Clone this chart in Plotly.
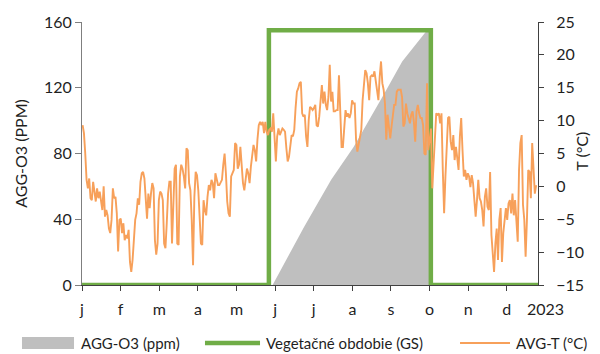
import numpy as np
import plotly.graph_objects as go

# ---------------- data ----------------
month_labels = ["j", "f", "m", "a", "m", "j", "j", "a", "s", "o", "n", "d"]
month_tick_days = [0, 31, 62, 93, 124, 155, 186, 217, 248, 279, 310, 341]
year_label = "2023"
year_label_day = 372
axis_days = 366

# daily mean temperature (°C)
avg_t = [
    9.3, 8.1, 5.0, 1.0, -0.3, 1.2, -1.8, -2.1, 0.7, -0.6, -2.3, -0.3, -1.8, -0.8, -2.3, -3.6, 0.0, -4.6, -3.6, -4.4,
    -6.4, -7.1, -5.1, -0.3, -1.8, -1.6, -4.1, -9.9, -5.1, -4.9, -7.1, -5.6, -8.2, -7.4, -7.9, -6.6, -11.5, -13.0, -11.2, -7.1,
    -5.1, -4.1, -1.8, -2.8, 0.7, 2.0, 2.2, 1.2, -2.6, -4.9, -1.1, -3.3, -1.1, 0.5, -0.3, -8.2, -10.4, -8.7, -2.1, -0.8,
    -1.1, -2.1,
    -8.7, -9.4, -5.6, -1.1, 0.7, 0.7, -8.7, -3.6, 2.7, 3.3, -8.7, -8.9, 1.5, 3.3, 2.7, 1.5, -0.3, 5.8, 5.5, 0.5,
    -0.6, -5.1, -12.0, -1.6, 2.2, 1.7, -0.6, -4.6, -8.7, -8.9, -2.1, -3.6, -4.4, -1.6, 0.2, -0.6, 1.0, 0.5, -1.8, 2.0,
    1.0, 0.2, 0.2, 0.7, 1.0, 3.3, 5.0, 2.0, -2.3, -4.1, -4.6, 1.5, 2.0, 2.5, 6.6, 6.3, 2.7, 3.3, 6.0,
    3.0, 0.5, -0.6, 1.5, 2.7, 2.0, 0.5, 3.0, 5.0, 6.3, 5.5, 3.8, 7.1, 9.3, 9.8, 9.3, 9.8, 8.1, 9.8, 8.3,
    7.8, 8.6, 8.8, 8.3, 11.1, 7.8, 3.8, 7.6, 8.8, 7.8, 8.3, 8.8, 8.6, 8.3, 5.8, 3.8, 4.5, 6.5, 7.8, 7.6,
    8.6, 11.9, 14.4, 14.9, 15.7, 15.9, 11.1, 10.6, 10.9, 7.6, 6.0, 10.1, 12.1, 11.9, 11.6, 11.9, 12.4, 9.3, 9.1,
    10.6, 13.1, 15.4, 12.6, 14.4, 12.4, 11.6, 13.6, 18.5, 12.9, 14.4, 11.4, 11.4, 11.6, 11.6, 16.9, 11.9, 6.0, 6.0, 9.3,
    11.6, 10.6, 11.1, 10.4, 11.1, 13.1, 12.6, 12.6, 7.1, 5.3, 6.3, 7.1, 8.6, 13.1, 15.7, 17.7, 17.2, 15.7, 13.1, 16.7,
    16.9, 16.7, 17.5, 15.7, 13.9, 13.1, 16.7, 19.0, 15.7, 14.7, 12.6, 7.1, 10.9, 9.1, 7.3, 9.1, 10.6, 12.4, 12.4,
    14.4, 14.7, 14.7, 14.7, 13.6, 9.1, 9.6, 12.6, 11.1, 10.4, 9.6, 10.9, 11.4, 9.8, 6.8, 11.4, 12.4, 11.1, 10.4, 10.4,
    9.3, 5.0, 4.8, 15.7, 5.5, 7.1, 8.8, -0.3, 3.0, 6.6, 11.1, 10.9, 11.1, 9.6, 11.1, 2.5, -4.1, 1.5, 6.6, 10.4,
    10.6, 6.8, 5.5, 7.8, 4.0, 6.0, 4.3, 2.5, 7.6, 10.4, 5.5, 1.5, 2.5, 1.0, 2.0, 1.5, -0.1,
    1.7, 0.5, -2.6, -4.6, -2.1, 1.0, -1.8, -2.3, -3.6, -6.1, -1.6, -0.3, -3.1, -3.6, 2.2, -7.4, -10.2, -13.0, -8.7, -6.4,
    -11.2, -5.1, -3.3, -11.5, -7.1, -4.6, -3.3, -5.1, -2.6, -2.1, -4.1, -1.1, -4.4, -2.1, -5.1, -8.4, 2.5, 6.6, 7.8, -2.8,
    -5.1, -10.7, -5.1, 2.5, 2.2, -1.8, 6.6, 2.5, -1.1, 0.2,
]
first_day, last_day = 0.5, 364.5

# cumulative AGG-O3 (ppm) during the growing season
agg_days = [153, 178, 200, 218, 243, 257, 276, 279.6, 279.7]
agg_vals = [0, 35, 64, 84, 117, 136, 154, 154, 0]

# growing season (GS) indicator
gs_days = [0, 150, 280, 366]
gs_vals = [0, 155, 0, 0]

series_names = ["AGG-O3 (ppm)", "Vegetačné obdobie (GS)", "AVG-T (°C)"]
left_title = "AGG-O3 (PPM)"
right_title = "T (°C)"

# ---------------- figure ----------------
FONT = "Lato"
TXT = "#1f1f1f"
AXC = "#7f7f7f"
GRAY = "#BFBFBF"
GREEN = "#70AD47"
ORANGE = "#F7A05A"
FS = 16
LFS = 15

t_days = np.linspace(first_day, last_day, len(avg_t))

fig = go.Figure()
fig.add_trace(go.Scatter(
    x=agg_days, y=agg_vals, fill="tozeroy", mode="none",
    fillcolor=GRAY, name=series_names[0], showlegend=False,
))
fig.add_trace(go.Scatter(
    x=gs_days, y=gs_vals, mode="lines",
    line=dict(color=GREEN, width=4.5, shape="hv"),
    name=series_names[1], showlegend=False,
))
fig.add_trace(go.Scatter(
    x=t_days, y=avg_t, mode="lines", yaxis="y2",
    line=dict(color=ORANGE, width=1.9),
    name=series_names[2], showlegend=False,
))

# the page body adds an 8px offset, so the figure is 8px smaller each way
fig.update_layout(
    width=592, height=346,
    margin=dict(l=74, r=62, t=14, b=69, autoexpand=False),
    paper_bgcolor="white", plot_bgcolor="white",
    font=dict(family=FONT, size=FS, color=TXT),
    showlegend=False,
    xaxis=dict(
        range=[0, axis_days], tickvals=month_tick_days, ticktext=month_labels,
        ticks="outside", ticklen=5, tickcolor="#404040", tickwidth=1,
        showline=True, linecolor="#404040", linewidth=1,
        showgrid=False, zeroline=False, ticklabelstandoff=5,
        tickfont=dict(size=FS, color=TXT),
    ),
    yaxis=dict(
        range=[0, 160], dtick=40, ticks="outside", ticklen=6,
        tickcolor=AXC, showline=True, linecolor=AXC, linewidth=1,
        showgrid=False, zeroline=False,
        title=dict(text=left_title, font=dict(size=FS, color=TXT), standoff=12),
        tickfont=dict(size=FS, color=TXT),
    ),
    yaxis2=dict(
        range=[-15, 25], dtick=5, overlaying="y", side="right",
        ticks="outside", ticklen=5, tickcolor="#404040",
        showline=True, linecolor="#404040", linewidth=1,
        showgrid=False, zeroline=False, ticklabelstandoff=9,
        tickfont=dict(size=FS, color=TXT),
    ),
)

# right axis title placed explicitly, kept inside the visible area
fig.add_annotation(
    x=1.096, xref="paper", y=0.51, yref="paper",
    xanchor="center", yanchor="middle", textangle=-90,
    text=right_title, showarrow=False,
    font=dict(family=FONT, size=FS, color=TXT),
)

# "2023" label after the last month
fig.add_annotation(
    x=year_label_day / axis_days, xref="paper", y=-0.045, yref="paper",
    xanchor="center", yanchor="top", text=year_label, showarrow=False,
    font=dict(family=FONT, size=FS, color=TXT),
)

# manual legend row below the plot (paper coordinates)
leg_y = -0.2205
fig.add_shape(type="rect", xref="paper", yref="paper",
              x0=-0.1316, x1=-0.0175, y0=leg_y - 0.023, y1=leg_y + 0.023,
              fillcolor=GRAY, line=dict(width=0))
fig.add_shape(type="line", xref="paper", yref="paper",
              x0=0.2697, x1=0.3904, y0=leg_y, y1=leg_y,
              line=dict(color=GREEN, width=4.5))
fig.add_shape(type="line", xref="paper", yref="paper",
              x0=0.829, x1=0.9386, y0=leg_y, y1=leg_y,
              line=dict(color=ORANGE, width=1.9))
for xpos, name in zip([-0.0066, 0.3991, 0.947], series_names):
    fig.add_annotation(
        x=xpos, xref="paper", y=leg_y, yref="paper",
        xanchor="left", yanchor="middle", text=name, showarrow=False,
        font=dict(family=FONT, size=LFS, color=TXT),
    )

fig.write_html("out.html")
